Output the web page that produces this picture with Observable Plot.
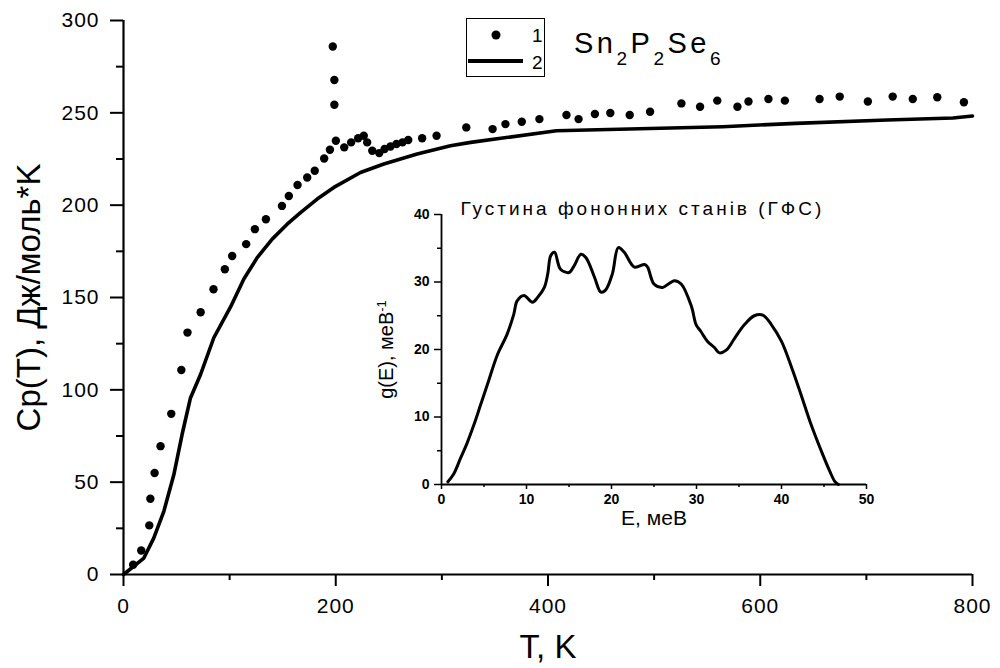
<!DOCTYPE html>
<html>
<head>
<meta charset="utf-8">
<script src="https://cdn.jsdelivr.net/npm/d3@7"></script>
<script src="https://cdn.jsdelivr.net/npm/@observablehq/plot@0.6"></script>
<style>
  html, body { margin: 0; padding: 0; background: #fff; }
  #wrap { position: relative; width: 1000px; height: 668px; font-family: "Liberation Sans", Arial, sans-serif; }
  #wrap > * { position: absolute; }
</style>
</head>
<body>
<div id="wrap"></div>
<script>
// ---- Data: experimental Cp(T) (series 1, dots)
const expT  = [9.1, 16.7, 24.3, 25.3, 29.3, 34.9, 45, 54.5, 60.3, 72.7, 84.8, 95.5, 102.4, 115.6, 123.8, 134.2, 149.3, 155.8, 164, 173.1, 180.2, 189.1, 194.5, 197.2, 198.7, 198.7, 200.1, 208, 214.5, 221.1, 226.4, 229.6, 234.4, 241, 246, 251.6, 257.2, 262.9, 268.3, 281.4, 295, 323, 347.8, 359.9, 375.3, 391.9, 417.4, 428.8, 444.2, 458.7, 477, 496.2, 525.7, 543.3, 559.5, 578.5, 588.9, 607.7, 623.2, 655.9, 674.9, 701.4, 724.8, 743.7, 766.8, 791.9];
const expCp = [5.3, 13, 26.6, 41, 55, 69.5, 87, 110.7, 131, 142, 154.5, 165.3, 172.5, 178.9, 187, 192.4, 199.6, 205, 210.9, 215, 218.6, 225.3, 230, 285.9, 267.8, 254.4, 234.9, 231.3, 234, 236.2, 237.6, 234, 229.5, 228.2, 230.4, 231.8, 233.1, 234, 235.3, 236.2, 237.6, 242.1, 241.2, 243.9, 245.2, 246.6, 248.8, 246.6, 249.4, 249.9, 248.8, 250.6, 255.1, 253.3, 256.6, 253.3, 256.1, 257.5, 256.6, 257.5, 258.8, 256.1, 258.8, 257.5, 258.4, 255.7];
// ---- Data: calculated Cp(T) (series 2, line)
const calcT  = [0, 19.2, 28.5, 38, 47.4, 55.2, 63.1, 72.6, 85.1, 101, 113.4, 126, 140.1, 154.2, 166.8, 182.5, 198.2, 223.3, 245.3, 276.7, 308.1, 327.1, 408, 564.7, 633.5, 719.6, 781.6, 800];
const calcCp = [0, 8.9, 19.7, 34.2, 54, 75.8, 95.6, 108.3, 128.2, 145, 160, 171.6, 181.6, 189.7, 196, 203.3, 209.6, 217.7, 222.3, 227.7, 232.2, 234, 240.3, 242.5, 244.3, 246.1, 247.2, 248.3];
// ---- Data: phonon density of states (inset)
const dosE = [0.75, 1.45, 2.24, 3.0, 3.8, 4.6, 5.4, 6.6, 7.7, 8.5, 8.9, 9.7, 10.7, 11.3, 12.1, 12.5, 12.85, 13.3, 14.0, 15.0, 15.6, 16.4, 17.0, 18.0, 18.75, 19.3, 20.1, 20.8, 21.5, 22.7, 23.9, 24.25, 25.0, 26.0, 27.4, 28.2, 29.4, 29.95, 30.5, 31.3, 32.1, 32.7, 33.5, 34.5, 35.65, 36.8, 37.8, 38.8, 40.0, 41.2, 42.3, 43.5, 44.7, 45.7, 46.3, 46.7];
const dosG = [0.4, 1.6, 3.9, 6.1, 8.8, 11.8, 14.8, 19.3, 22.2, 25.2, 27.2, 28.0, 27.0, 27.7, 29.2, 31.2, 33.9, 34.4, 31.9, 31.4, 32.4, 34.1, 33.6, 30.7, 28.5, 28.8, 31.2, 35.1, 34.4, 32.2, 32.6, 32.2, 29.7, 29.2, 30.2, 29.7, 26.4, 23.7, 22.7, 21.2, 20.3, 19.5, 19.9, 21.7, 23.7, 25.0, 25.1, 23.7, 21.2, 17.3, 13.3, 8.8, 4.9, 1.9, 0.4, 0];

// ---- Ticks and labels
const mainXTicks = [0, 200, 400, 600, 800];
const mainXMinor = [100, 300, 500, 700];
const mainYTicks = [0, 50, 100, 150, 200, 250, 300];
const mainYMinor = [25, 75, 125, 175, 225, 275];
const insetXTicks = [0, 10, 20, 30, 40, 50];
const insetXMinor = [5, 15, 25, 35, 45];
const insetYTicks = [0, 10, 20, 30, 40];
const insetYMinor = [5, 15, 25, 35];
const xLabel = "T, K";
const yLabel = "Cp(T), Дж/моль*K";
const insetTitle = "Густина фононних станів (ГФС)";
const insetXLabel = "E, меВ";
const insetYLabel = "g(E), меВ";
const insetYLabelSup = "-1";
const legendLabels = ["1", "2"];
const compound = [["Sn", "2"], ["P", "2"], ["Se", "6"]];

const exp = expT.map((t, i) => ({T: t, Cp: expCp[i]}));
const calc = calcT.map((t, i) => ({T: t, Cp: calcCp[i]}));
const dos = dosE.map((e, i) => ({E: e, g: dosG[i]}));

const FONT = "'Liberation Sans', Arial, sans-serif";
const wrap = document.getElementById("wrap");

// ---- Main chart
const main = Plot.plot({
  width: 1000, height: 668,
  marginLeft: 123, marginRight: 28, marginTop: 20, marginBottom: 94,
  style: {fontFamily: FONT, background: "transparent", color: "#000"},
  x: {domain: [0, 800]},
  y: {domain: [0, 300]},
  marks: [
    Plot.axisX(mainXTicks, {tickSize: 12, tickPadding: 12, fontSize: 21, strokeWidth: 2, label: null}),
    Plot.axisX(mainXMinor, {tickSize: 6, strokeWidth: 2, tickFormat: () => "", label: null}),
    Plot.axisY(mainYTicks, {tickSize: 13, tickPadding: 11, fontSize: 21, strokeWidth: 2, label: null}),
    Plot.axisY(mainYMinor, {tickSize: 7, strokeWidth: 2, tickFormat: () => "", label: null}),
    Plot.ruleX([0], {strokeWidth: 2.2}),
    Plot.ruleY([0], {strokeWidth: 2.2}),
    Plot.line(calc, {x: "T", y: "Cp", stroke: "#000", strokeWidth: 3.6}),
    Plot.dot(exp, {x: "T", y: "Cp", r: 4.2, fill: "#000", stroke: "none"}),
    Plot.text([xLabel], {frameAnchor: "bottom", dy: 83, fontSize: 33, fill: "#000"}),
    Plot.text([yLabel], {frameAnchor: "left", textAnchor: "middle", rotate: -90, dx: -94, fontSize: 33, fill: "#000"})
  ]
});
main.style.left = "0px"; main.style.top = "0px";
wrap.appendChild(main);

// ---- Inset chart
const inset = Plot.plot({
  width: 510, height: 350,
  marginLeft: 71, marginRight: 14, marginTop: 24, marginBottom: 56,
  style: {fontFamily: FONT, background: "transparent", color: "#000", overflow: "visible"},
  x: {domain: [0, 50]},
  y: {domain: [0, 40]},
  marks: [
    Plot.axisX(insetXTicks, {tickSize: 5, tickPadding: 5, fontSize: 14, fontWeight: "bold", strokeWidth: 1.5, label: null}),
    Plot.axisX(insetXMinor, {tickSize: 3, strokeWidth: 1.5, tickFormat: () => "", label: null}),
    Plot.axisY(insetYTicks, {tickSize: 7, tickPadding: 5, fontSize: 14, fontWeight: "bold", strokeWidth: 1.5, label: null}),
    Plot.axisY(insetYMinor, {tickSize: 4, strokeWidth: 1.5, tickFormat: () => "", label: null}),
    Plot.ruleX([0], {strokeWidth: 1.8}),
    Plot.ruleY([0], {strokeWidth: 1.8}),
    Plot.line(dos, {x: "E", y: "g", stroke: "#000", strokeWidth: 3, curve: "catmull-rom"}),
    Plot.text([insetTitle], {frameAnchor: "top-left", textAnchor: "start", dx: 19, dy: -13, fontSize: 19, fill: "#000"}),
    Plot.text([insetXLabel], {frameAnchor: "bottom", dy: 40, fontSize: 21, fill: "#000"}),
    Plot.text([insetYLabel], {frameAnchor: "left", textAnchor: "middle", rotate: -90, dx: -55, fontSize: 20, fill: "#000"})
  ]
});
inset.style.left = "370px"; inset.style.top = "190px";
wrap.appendChild(inset);

// letter spacing + superscript tweaks
d3.select(inset).selectAll("text").filter(function() { return this.textContent === insetTitle; })
  .attr("letter-spacing", "3px");
d3.select(inset).selectAll("text").filter(function() { return this.textContent === insetYLabel; })
  .each(function() {
    d3.select(this).append("tspan").attr("dy", "-0.5em").attr("font-size", "13px").text(insetYLabelSup);
  });
d3.select(main).selectAll("g[aria-label='y-axis tick label'] text, g[aria-label='x-axis tick label'] text")
  .attr("letter-spacing", "1px");

// ---- Legend box
const leg = d3.create("svg").attr("width", 80).attr("height", 60)
  .style("left", "466px").style("top", "18px").style("overflow", "visible");
leg.append("rect").attr("x", 0.5).attr("y", 0.5).attr("width", 78).attr("height", 58)
  .attr("fill", "#fff").attr("stroke", "#000").attr("stroke-width", 1);
leg.append("circle").attr("cx", 30).attr("cy", 17).attr("r", 4.5).attr("fill", "#000");
leg.append("line").attr("x1", 2).attr("x2", 57).attr("y1", 43).attr("y2", 43)
  .attr("stroke", "#000").attr("stroke-width", 4);
leg.selectAll("text.lab").data(legendLabels).join("text").attr("class", "lab")
  .attr("x", 66).attr("y", (d, i) => i === 0 ? 24 : 51)
  .attr("font-family", FONT).attr("font-size", 19).text(d => d);
wrap.appendChild(leg.node());

// ---- Compound title
const ttl = d3.create("svg").attr("width", 200).attr("height", 60)
  .style("left", "572px").style("top", "20px").style("overflow", "visible");
const tx = ttl.append("text").attr("x", 2).attr("y", 33).attr("font-family", FONT)
  .attr("font-size", 29).attr("letter-spacing", "3.5px");
compound.forEach(([el, n], i) => {
  const s = tx.append("tspan").text(el);
  if (i > 0) s.attr("dy", -12);
  tx.append("tspan").attr("font-size", 19).attr("dy", 12).text(n);
});
wrap.appendChild(ttl.node());
</script>
</body>
</html>
